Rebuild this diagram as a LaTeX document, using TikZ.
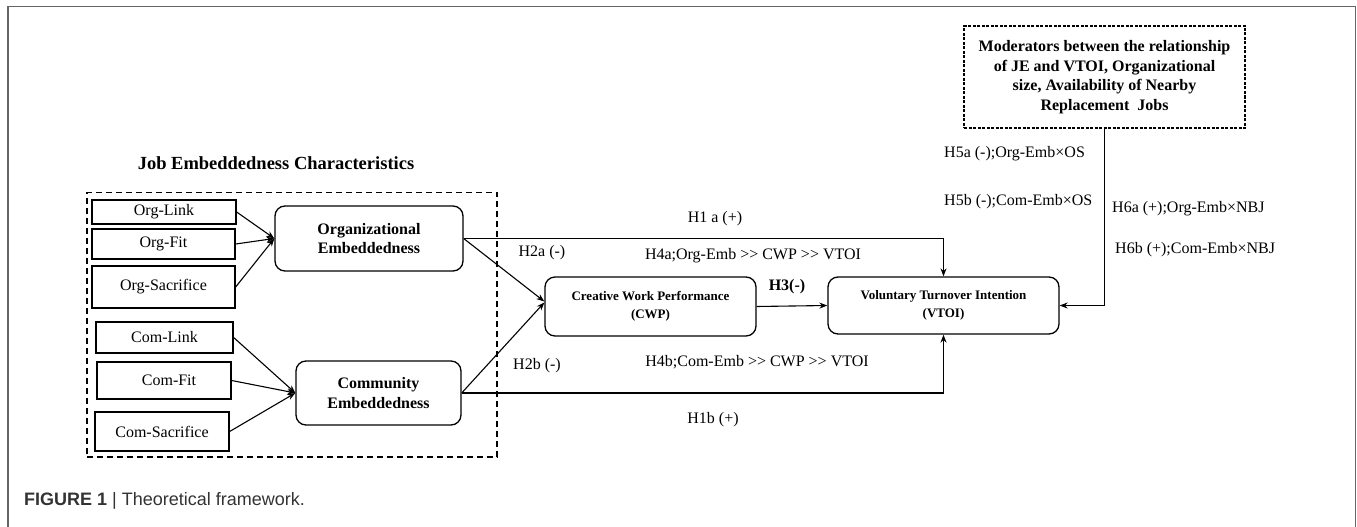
\documentclass[tikz,border=0pt]{standalone}
\usepackage{fontspec}
\setmainfont{Liberation Serif}
\newfontfamily\capfont{Liberation Sans}
\usetikzlibrary{arrows.meta,calc}
\newcommand{\gtgt}{>{}>}
\begin{document}
\begin{tikzpicture}[x=1pt,y=-1pt,
  sqbox/.style={draw, line width=1.3pt, inner sep=0pt, font=\fontsize{16}{19}\selectfont, align=center},
  rbox/.style={draw, line width=1.3pt, rounded corners=10pt, inner sep=0pt, align=center},
  bigfont/.style={font=\fontsize{16}{19.5}\selectfont\bfseries},
  smallbold/.style={font=\fontsize{13}{18}\selectfont\bfseries},
  conn/.style={line width=1.1pt, -{Stealth[length=8pt,width=6pt]}},
  lbl/.style={font=\fontsize{16}{19}\selectfont, inner sep=0pt},
  dashbox/.style={draw, line width=1.3pt, dash pattern=on 6pt off 4pt, inner sep=0pt},
  dotbox/.style={draw, line width=1.2pt, dash pattern=on 3pt off 1.5pt, inner sep=0pt, align=center},
]
\useasboundingbox (0,0) rectangle (1357,527);
% outer frame
\draw[line width=1.5pt, color=black!60] (8,527) -- (8,6.5) -- (1355.5,6.5) -- (1355.5,527);

% title
\node[font=\fontsize{18.5}{22}\selectfont\bfseries, inner sep=0pt] (title) at (276,163) {Job Embeddedness Characteristics};

% group box
\node[dashbox, minimum width=410pt, minimum height=264.5pt] (jebox) at (292,324.75) {};

% indicator boxes
\node[sqbox, minimum width=144pt, minimum height=24pt] (orglink) at (164,212) {Org-Link};
\node[sqbox, minimum width=143pt, minimum height=30pt] (orgfit) at (163.5,244) {Org-Fit};
\node[sqbox, minimum width=143pt, minimum height=42pt] (orgsac) at (163.5,287) {Org-Sacrifice};
\node[sqbox, minimum width=137pt, minimum height=31pt] (comlink) at (164.5,337.5) {Com-Link};
\node[sqbox, minimum width=134pt, minimum height=37pt] (comfit) at (164,380.5) {\hspace*{10pt}Com-Fit};
\node[sqbox, minimum width=134pt, minimum height=39pt] (comsac) at (162,431.5) {Com-Sacrifice};

% constructs
\node[rbox, bigfont, minimum width=188pt, minimum height=65pt] (orgemb) at (369,238.5) {Organizational\\Embeddedness};
\node[rbox, bigfont, minimum width=165pt, minimum height=64pt] (comemb) at (378.5,393) {Community\\Embeddedness};
\node[rbox, smallbold, minimum width=211pt, minimum height=59pt] (cwp) at (650.5,306.5) {Creative Work Performance\\(CWP)};
\node[rbox, smallbold, minimum width=231pt, minimum height=57pt] (vtoi) at (943.5,305.5) {Voluntary Turnover Intention\\(VTOI)};
\node[dotbox, bigfont, minimum width=281pt, minimum height=102pt] (mod) at (1104.5,77) {Moderators between the relationship\\of JE and VTOI, Organizational\\size, Availability of Nearby\\Replacement\ \ Jobs};

% connectors
\draw[conn] (orglink.east) -- (orgemb.west);
\draw[conn] (orgfit.east) -- (orgemb.west);
\draw[conn] (orgsac.east) -- (orgemb.west);
\draw[conn] (comlink.east) -- (comemb.west);
\draw[conn] (comfit.east) -- (comemb.west);
\draw[conn] (comsac.east) -- (comemb.west);
\draw[conn] (orgemb.east) -- ($(cwp.west)+(0,-5)$);
\draw[conn] (comemb.east) -- ($(cwp.west)+(0,-4)$);
\draw[conn] (orgemb.east) -| (vtoi.north);
\draw[conn] (comemb.east) -| (vtoi.south);
\draw[conn] (cwp.east) -- (vtoi.west);
\draw[conn] (mod.south) |- (vtoi.east);

% labels
\node[lbl] (h1a) at (715,219) {H1 a (+)};
\node[lbl] (h2a) at (542,253) {H2a (-)};
\node[lbl] (h4a) at (753,256) {H4a;Org-Emb \gtgt{} CWP \gtgt{} VTOI};
\node[lbl, font=\fontsize{16}{19}\selectfont\bfseries] (h3) at (787,287) {H3(-)};
\node[lbl] (h2b) at (537,366) {H2b (-)};
\node[lbl] (h4b) at (757,362) {H4b;Com-Emb \gtgt{} CWP \gtgt{} VTOI};
\node[lbl] (h1b) at (713,420) {H1b (+)};
\node[lbl, anchor=west] (h5a) at (944,154) {H5a (-);Org-Emb×OS};
\node[lbl, anchor=west] (h5b) at (944,202) {H5b (-);Com-Emb×OS};
\node[lbl, anchor=west] (h6a) at (1112,209) {H6a (+);Org-Emb×NBJ};
\node[lbl, anchor=west] (h6b) at (1115,250) {H6b (+);Com-Emb×NBJ};

% caption
\node[anchor=west, inner sep=0pt, font=\capfont\fontsize{18}{22}\selectfont, text=black!80] (cap) at (24,501) {\textbf{FIGURE 1} | Theoretical framework.};
\end{tikzpicture}
\end{document}
